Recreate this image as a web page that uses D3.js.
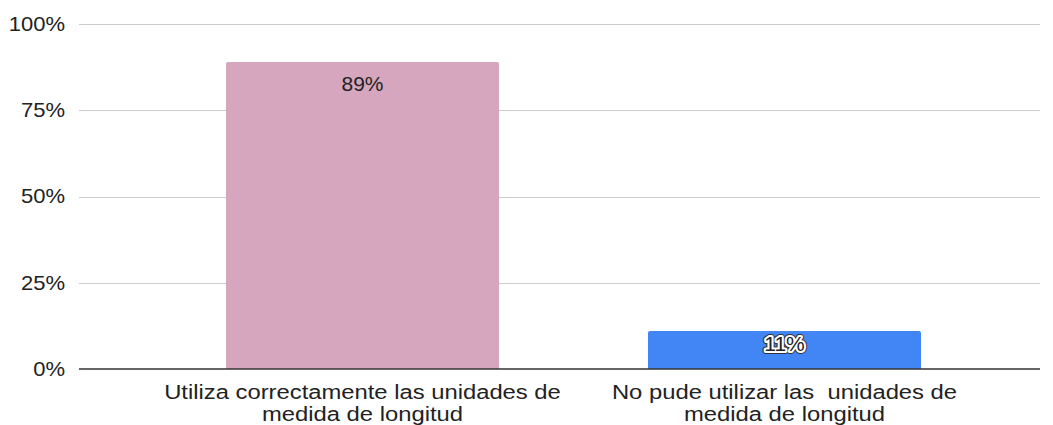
<!DOCTYPE html>
<html>
<head>
<meta charset="utf-8">
<script src="https://cdn.jsdelivr.net/npm/d3@7"></script>
<style>
  html, body { margin: 0; padding: 0; background: #fff; }
  svg { display: block; font-family: "Liberation Sans", Arial, sans-serif; }
</style>
</head>
<body>
<svg id="chart" width="1053" height="425"></svg>
<script>
// Survey results: share of students per outcome
const categories = [
  ["Utiliza correctamente las unidades de", "medida de longitud"],
  ["No pude utilizar las  unidades de", "medida de longitud"]
];
const values = [0.89, 0.11];
const valueLabels = ["89%", "11%"];
const barColors = ["#d5a6bd", "#4285f4"];
const tickValues = [0, 0.25, 0.5, 0.75, 1];

const svg = d3.select("#chart");
const plotLeft = 79, plotRight = 1040;

const y = d3.scaleLinear().domain([0, 1]).range([369, 24]);
const x = d3.scaleBand()
  .domain(d3.range(categories.length))
  .range([151.5, 995.5])
  .paddingInner(0.353)
  .paddingOuter(0.1765);

// horizontal gridlines
svg.append("g")
  .selectAll("line")
  .data(tickValues.filter(t => t > 0))
  .join("line")
  .attr("x1", plotLeft).attr("x2", plotRight)
  .attr("y1", d => Math.round(y(d)) + 0.5).attr("y2", d => Math.round(y(d)) + 0.5)
  .attr("stroke", "#cccccc").attr("stroke-width", 1);

// y axis tick labels (text drawn slightly wide)
const yAxis = d3.axisLeft(y)
  .tickValues(tickValues)
  .tickFormat(d3.format(".0%"))
  .tickSize(0)
  .tickPadding(0);
const gy = svg.append("g").attr("transform", `translate(${plotLeft - 14},0)`).call(yAxis);
gy.select(".domain").remove();
gy.selectAll("text")
  .attr("x", 0)
  .attr("transform", "scale(1.1,1)")
  .attr("font-family", "Liberation Sans, Arial, sans-serif")
  .attr("font-size", 20)
  .attr("fill", "#222");

// bars with slightly rounded tops
const r = 2;
svg.append("g")
  .selectAll("path")
  .data(values)
  .join("path")
  .attr("fill", (d, i) => barColors[i])
  .attr("d", (d, i) => {
    const x0 = x(i), x1 = x(i) + x.bandwidth();
    const y0 = y(d), yb = y(0);
    return `M${x0},${yb}V${y0 + r}Q${x0},${y0} ${x0 + r},${y0}H${x1 - r}Q${x1},${y0} ${x1},${y0 + r}V${yb}Z`;
  });

// baseline
svg.append("line")
  .attr("x1", plotLeft).attr("x2", plotRight)
  .attr("y1", y(0)).attr("y2", y(0))
  .attr("stroke", "#333").attr("stroke-width", 1.5);

// value labels inside bars; the short bar's label gets a white halo with dark rim
const labelData = values.map((v, i) => ({ v, i, text: valueLabels[i] }));
const labelPos = d =>
  `translate(${x(d.i) + x.bandwidth() / 2},${y(d.v) + (d.i === 0 ? 29 : 20)}) scale(1.05,1)`;
const layers = [
  { stroke: "#333", width: 6 },
  { stroke: "#fff", width: 4 },
  { stroke: "none", width: 0 }
];
layers.forEach(layer => {
  svg.append("g")
    .selectAll("text")
    .data(labelData.filter(d => layer.stroke === "none" || d.i === 1))
    .join("text")
    .attr("transform", labelPos)
    .attr("text-anchor", "middle")
    .attr("font-size", 20)
    .attr("fill", "#222")
    .attr("stroke", layer.stroke)
    .attr("stroke-width", layer.width)
    .attr("stroke-linejoin", "round")
    .text(d => d.text);
});

// category labels, two lines each
const cl = svg.append("g")
  .selectAll("g")
  .data(categories)
  .join("g")
  .attr("transform", (d, i) => `translate(${x(i) + x.bandwidth() / 2},0)`);
cl.selectAll("text")
  .data(d => d)
  .join("text")
  .attr("transform", (d, j) => `translate(0,${399 + j * 22}) scale(1.19,1)`)
  .attr("text-anchor", "middle")
  .attr("font-size", 20)
  .attr("fill", "#222")
  .style("white-space", "pre")
  .text(d => d);
</script>
</body>
</html>
